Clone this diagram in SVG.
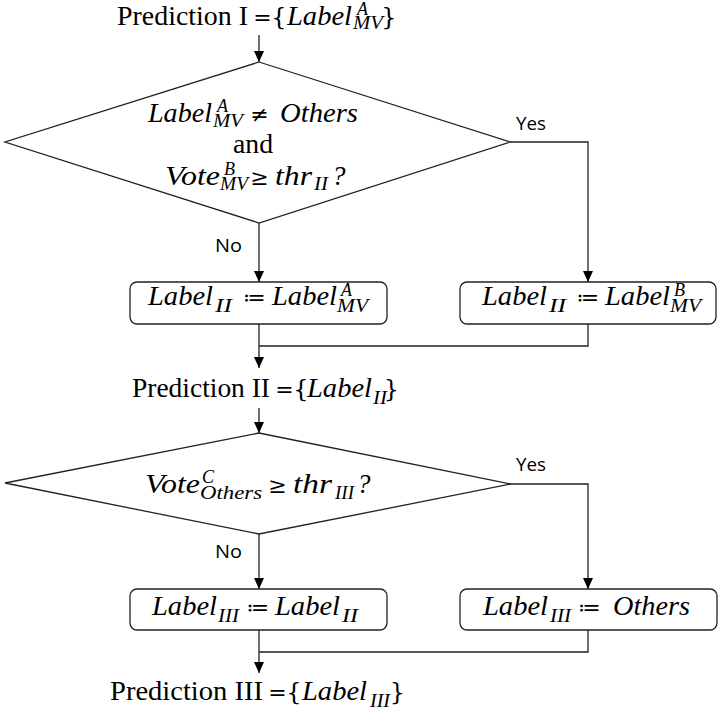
<svg xmlns="http://www.w3.org/2000/svg" width="720" height="710" viewBox="0 0 720 710">
<style>
.up{font-family:"Liberation Serif","DejaVu Serif",serif;font-size:27px;fill:#000}
.sym{font-family:"DejaVu Serif","Liberation Serif",serif;font-size:22px;fill:#000;text-anchor:middle}
.br{font-family:"DejaVu Serif","Liberation Serif",serif;font-size:24px;fill:#000;text-anchor:middle}
.m{font-family:"Liberation Serif","DejaVu Serif",serif;font-style:italic;font-size:27px;fill:#000}
.s{font-family:"Liberation Serif","DejaVu Serif",serif;font-style:italic;font-size:18px;fill:#000}
.lbl{font-family:"Open Sans","Liberation Sans",sans-serif;font-size:19px;fill:#000}
.shape{fill:#fff;stroke:#222;stroke-width:1.3}
.ln{fill:none;stroke:#222;stroke-width:1.3}
</style>
<defs>
<marker id="ah" markerUnits="userSpaceOnUse" markerWidth="12" markerHeight="10" refX="11" refY="5" orient="auto">
<path d="M0,0 L11,5 L0,10 z" fill="#000"/>
</marker>
</defs>
<rect width="720" height="710" fill="#fff"/>
<g id="connectors">
<line class="ln" x1="259" y1="35" x2="259" y2="62" marker-end="url(#ah)"/>
<line class="ln" x1="259" y1="223" x2="259" y2="282" marker-end="url(#ah)"/>
<polyline class="ln" points="510,142 588,142 588,282" marker-end="url(#ah)"/>
<line class="ln" x1="259" y1="324" x2="259" y2="368" marker-end="url(#ah)"/>
<polyline class="ln" points="588,324 588,346 259,346"/>
<line class="ln" x1="259" y1="408" x2="259" y2="433" marker-end="url(#ah)"/>
<line class="ln" x1="259" y1="534" x2="259" y2="589" marker-end="url(#ah)"/>
<polyline class="ln" points="511,484 588,484 588,589" marker-end="url(#ah)"/>
<line class="ln" x1="259" y1="630" x2="259" y2="673" marker-end="url(#ah)"/>
<polyline class="ln" points="588,630 588,652 259,652"/>
<text class="lbl" x="516" y="130" textLength="30" lengthAdjust="spacingAndGlyphs">Yes</text>
<text class="lbl" x="215" y="252" textLength="27" lengthAdjust="spacingAndGlyphs">No</text>
<text class="lbl" x="516" y="471" textLength="30" lengthAdjust="spacingAndGlyphs">Yes</text>
<text class="lbl" x="215" y="558" textLength="27" lengthAdjust="spacingAndGlyphs">No</text>
</g>
<g id="pred1">
<text class="up" x="117" y="25" textLength="131" lengthAdjust="spacingAndGlyphs">Prediction I</text>
<text class="sym" x="262.5" y="25">=</text>
<text class="br" x="279" y="25">{</text>
<text class="m" x="287" y="25" textLength="65" lengthAdjust="spacingAndGlyphs">Label</text>
<text class="s" x="357" y="15">A</text>
<text class="s" x="353" y="29" textLength="30" lengthAdjust="spacingAndGlyphs">MV</text>
<text class="br" x="389" y="25">}</text>
</g>
<g id="decision1">
<polygon class="shape" points="259,62 510,142 259,223 5,142"/>
<text class="m" x="148" y="122" textLength="64" lengthAdjust="spacingAndGlyphs">Label</text>
<text class="s" x="217" y="112">A</text>
<text class="s" x="213" y="127" textLength="30" lengthAdjust="spacingAndGlyphs">MV</text>
<text class="sym" x="259.5" y="122">≠</text>
<text class="m" x="280" y="122" textLength="78" lengthAdjust="spacingAndGlyphs">Others</text>
<text class="up" x="233" y="153" textLength="40" lengthAdjust="spacingAndGlyphs">and</text>
<text class="m" x="165" y="185" textLength="55" lengthAdjust="spacingAndGlyphs">Vote</text>
<text class="s" x="224" y="175">B</text>
<text class="s" x="220" y="190" textLength="28" lengthAdjust="spacingAndGlyphs">MV</text>
<text class="sym" x="259.5" y="185">≥</text>
<text class="m" x="275" y="185" textLength="37" lengthAdjust="spacingAndGlyphs">thr</text>
<text class="s" x="314" y="190" textLength="14" lengthAdjust="spacingAndGlyphs">II</text>
<text class="m" x="332" y="185">?</text>
</g>
<g id="box1">
<rect class="shape" x="130" y="282" width="257" height="42" rx="7"/>
<text class="m" x="148" y="305" textLength="65" lengthAdjust="spacingAndGlyphs">Label</text>
<text class="s" x="215" y="312" textLength="17" lengthAdjust="spacingAndGlyphs">II</text>
<text class="sym" x="254" y="305">≔</text>
<text class="m" x="272" y="305" textLength="65" lengthAdjust="spacingAndGlyphs">Label</text>
<text class="s" x="341" y="296">A</text>
<text class="s" x="337" y="312" textLength="31" lengthAdjust="spacingAndGlyphs">MV</text>
</g>
<g id="box2">
<rect class="shape" x="460" y="282" width="256" height="42" rx="7"/>
<text class="m" x="482" y="305" textLength="65" lengthAdjust="spacingAndGlyphs">Label</text>
<text class="s" x="549" y="312" textLength="17" lengthAdjust="spacingAndGlyphs">II</text>
<text class="sym" x="587.5" y="305">≔</text>
<text class="m" x="605" y="305" textLength="65" lengthAdjust="spacingAndGlyphs">Label</text>
<text class="s" x="674" y="296">B</text>
<text class="s" x="670" y="312" textLength="31" lengthAdjust="spacingAndGlyphs">MV</text>
</g>
<g id="pred2">
<text class="up" x="132" y="397" textLength="138" lengthAdjust="spacingAndGlyphs">Prediction II</text>
<text class="sym" x="284.5" y="397">=</text>
<text class="br" x="301" y="397">{</text>
<text class="m" x="307" y="397" textLength="65" lengthAdjust="spacingAndGlyphs">Label</text>
<text class="s" x="373" y="404" textLength="14" lengthAdjust="spacingAndGlyphs">II</text>
<text class="br" x="391.5" y="397">}</text>
</g>
<g id="decision2">
<polygon class="shape" points="259,433 511,484 259,534 5,483"/>
<text class="m" x="145" y="493" textLength="55" lengthAdjust="spacingAndGlyphs">Vote</text>
<text class="s" x="202" y="483">C</text>
<text class="s" x="200" y="499" textLength="62" lengthAdjust="spacingAndGlyphs">Others</text>
<text class="sym" x="277.5" y="493">≥</text>
<text class="m" x="293" y="493" textLength="39" lengthAdjust="spacingAndGlyphs">thr</text>
<text class="s" x="335" y="499" textLength="19" lengthAdjust="spacingAndGlyphs">III</text>
<text class="m" x="357" y="493">?</text>
</g>
<g id="box3">
<rect class="shape" x="130" y="589" width="257" height="41" rx="7"/>
<text class="m" x="152" y="615" textLength="65" lengthAdjust="spacingAndGlyphs">Label</text>
<text class="s" x="218" y="622" textLength="21" lengthAdjust="spacingAndGlyphs">III</text>
<text class="sym" x="257.5" y="615">≔</text>
<text class="m" x="275" y="615" textLength="65" lengthAdjust="spacingAndGlyphs">Label</text>
<text class="s" x="342" y="622" textLength="16" lengthAdjust="spacingAndGlyphs">II</text>
</g>
<g id="box4">
<rect class="shape" x="460" y="589" width="257" height="41" rx="7"/>
<text class="m" x="483" y="615" textLength="65" lengthAdjust="spacingAndGlyphs">Label</text>
<text class="s" x="550" y="622" textLength="21" lengthAdjust="spacingAndGlyphs">III</text>
<text class="sym" x="589" y="615">≔</text>
<text class="m" x="613" y="615" textLength="77" lengthAdjust="spacingAndGlyphs">Others</text>
</g>
<g id="pred3">
<text class="up" x="110" y="700" textLength="153" lengthAdjust="spacingAndGlyphs">Prediction III</text>
<text class="sym" x="277.5" y="700">=</text>
<text class="br" x="294" y="700">{</text>
<text class="m" x="302" y="700" textLength="65" lengthAdjust="spacingAndGlyphs">Label</text>
<text class="s" x="370" y="707" textLength="20" lengthAdjust="spacingAndGlyphs">III</text>
<text class="br" x="397.5" y="700">}</text>
</g>
</svg>
